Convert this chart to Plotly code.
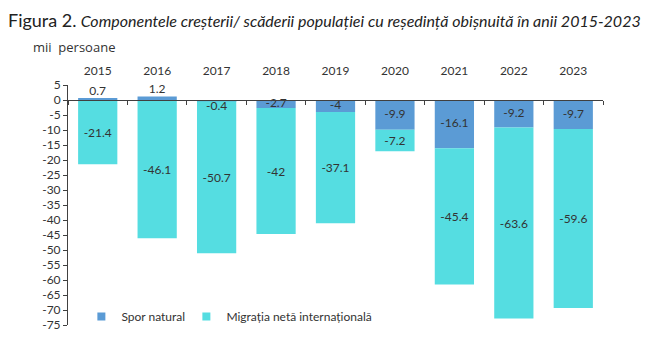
import plotly.graph_objects as go

years = ["2015", "2016", "2017", "2018", "2019", "2020", "2021", "2022", "2023"]
spor_natural = [0.7, 1.2, -0.4, -2.7, -4, -9.9, -16.1, -9.2, -9.7]
migratia = [-21.4, -46.1, -50.7, -42, -37.1, -7.2, -45.4, -63.6, -59.6]
y_ticks = list(range(-75, 6, 5))

C_SPOR = "#5B9BD5"
C_MIGR = "#55DDE1"
TXT = "#333333"
FONT = "Lato"

fig = go.Figure()
fig.add_trace(go.Bar(x=years, y=spor_natural, name="Spor natural", showlegend=False,
                     marker=dict(color=C_SPOR, line=dict(width=0))))
fig.add_trace(go.Bar(x=years, y=migratia, name="Migrația netă internațională", showlegend=False,
                     marker=dict(color=C_MIGR, line=dict(width=0)),
                     text=[str(v) for v in migratia], textposition="inside",
                     insidetextanchor="middle", constraintext="none",
                     textfont=dict(family=FONT, size=12, color=TXT)))

# labels for natural increase
lab_y, lab_pos = [], []
for v in spor_natural:
    if v > 0:
        lab_y.append(v); lab_pos.append("top center")
    elif abs(v) < 2:
        lab_y.append(v); lab_pos.append("bottom center")
    else:
        lab_y.append(v / 2); lab_pos.append("middle center")
fig.add_trace(go.Scatter(x=years, y=lab_y, mode="text", text=[str(v) for v in spor_natural],
                         textposition=lab_pos, showlegend=False, hoverinfo="skip",
                         textfont=dict(family=FONT, size=12, color=TXT)))

# legend entries (small square swatches)
for nm, col in [("Spor natural", C_SPOR), ("Migrația netă internațională", C_MIGR), (" ", "rgba(0,0,0,0)")]:
    fig.add_trace(go.Scatter(x=[None], y=[None], mode="markers", name=nm,
                             marker=dict(symbol="square", size=8, color=col),
                             hoverinfo="skip"))

fig.update_layout(
    width=669, height=338,
    margin=dict(l=68, r=66, t=85, b=13, autoexpand=False),
    paper_bgcolor="white", plot_bgcolor="white",
    barmode="relative", bargap=0.34,
    font=dict(family=FONT, size=11, color=TXT),
    title=dict(text="<span style='font-size:18px;'>Figura 2.</span> <i>Componentele creșterii/ scăderii populației cu reședință obișnuită în anii 2015-2023</i>",
               x=8 / 669, xref="container", xanchor="left",
               y=1 - 21 / 338, yref="container", yanchor="middle",
               font=dict(family=FONT, size=16, color="#222222")),
    legend=dict(orientation="h", x=0.025, y=0.035, xanchor="left", yanchor="middle",
                font=dict(family=FONT, size=12, color=TXT), bgcolor="rgba(0,0,0,0)",
                itemwidth=30, entrywidth=60, traceorder="normal"),
    showlegend=True,
)
fig.update_xaxes(type="category", side="top", showline=False, ticks="", automargin=False,
                 showgrid=False, tickfont=dict(family=FONT, size=12, color=TXT),
                 ticklabelstandoff=7, range=[-0.5, len(years) - 0.5])
fig.update_layout(xaxis2=dict(overlaying="x", anchor="free", automargin=False,
                              position=(0 - y_ticks[0]) / (y_ticks[-1] - y_ticks[0]),
                              range=[-0.5, len(years) - 0.5], showline=True, linecolor="#404040",
                              linewidth=1, ticks="outside", ticklen=4, tickcolor="#404040",
                              tickvals=[i - 0.5 for i in range(len(years) + 1)],
                              showticklabels=False, showgrid=False, zeroline=False))
fig.add_trace(go.Scatter(x=[0], y=[0], xaxis="x2", mode="markers", marker=dict(opacity=0),
                         showlegend=False, hoverinfo="skip"))
fig.update_yaxes(range=[y_ticks[0], y_ticks[-1]], tickvals=y_ticks, automargin=False,
                 ticktext=[str(v) for v in y_ticks], showline=True, linecolor="#404040",
                 ticks="outside", ticklen=4, tickcolor="#404040", showgrid=False,
                 zeroline=False, tickfont=dict(family=FONT, size=12, color=TXT))
fig.add_annotation(text="mii  persoane", xref="paper", yref="paper",
                   x=(74 - 68) / 535, y=(325 - 47) / 240, showarrow=False,
                   xanchor="center", yanchor="middle",
                   font=dict(family="Open Sans", size=13, color=TXT))

fig.write_html("out.html")
